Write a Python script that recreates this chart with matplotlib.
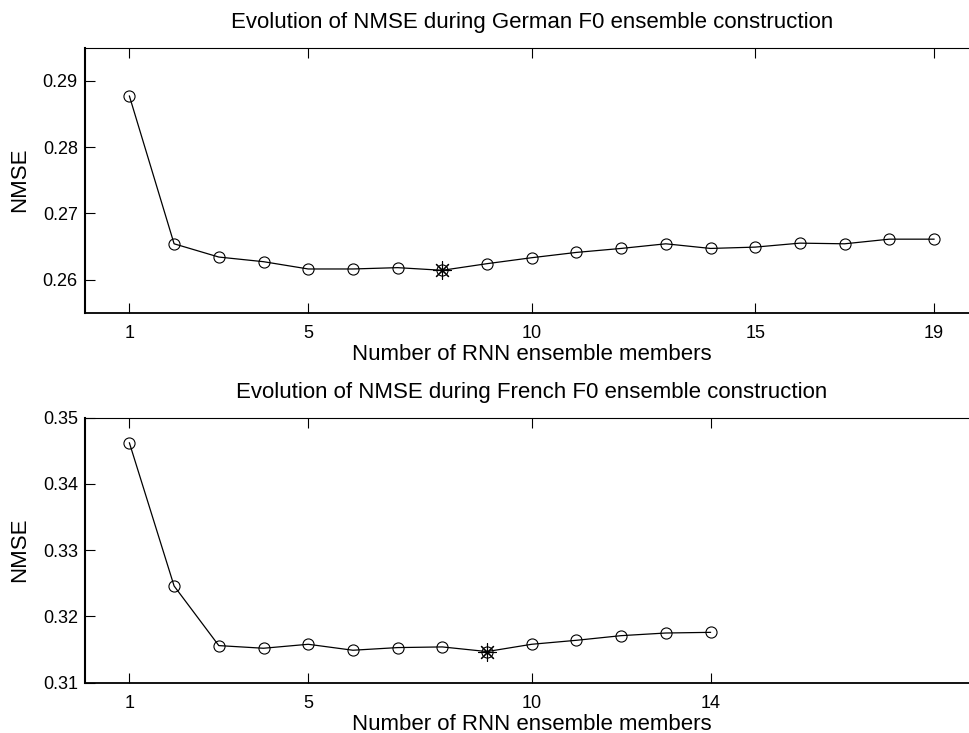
import matplotlib
matplotlib.use("Agg")
import matplotlib.pyplot as plt
import numpy as np

# NMSE after each member is added to the ensemble
german_members = list(range(1, 20))
german_nmse = [0.2877, 0.2654, 0.2634, 0.2627, 0.2616, 0.2616, 0.2618, 0.2614,
               0.2624, 0.2633, 0.2641, 0.2647, 0.2654, 0.2647, 0.2649, 0.2655,
               0.2654, 0.2661, 0.2661]
german_ticks = [1, 5, 10, 15, 19]

french_members = list(range(1, 15))
french_nmse = [0.3462, 0.3246, 0.3156, 0.3152, 0.3158, 0.3149, 0.3153, 0.3154,
               0.3147, 0.3158, 0.3164, 0.3171, 0.3175, 0.3176]
french_ticks = [1, 5, 10, 14]

plt.rcParams['font.family'] = ['Liberation Sans', 'DejaVu Sans']

fig = plt.figure(figsize=(9.69, 7.33), dpi=100)

left = 84.7 / 969
width = 894.0 / 969
panels = [
    (german_members, german_nmse, german_ticks, (0.255, 0.295),
     [0.26, 0.27, 0.28, 0.29], "Evolution of NMSE during German F0 ensemble construction",
     1 - 312.7 / 733),
    (french_members, french_nmse, french_ticks, (0.31, 0.35),
     [0.31, 0.32, 0.33, 0.34, 0.35], "Evolution of NMSE during French F0 ensemble construction",
     1 - 682.7 / 733),
]

for xs, ys, ticks, ylim, yticks, title, bottom in panels:
    ax = fig.add_axes([left, bottom, width, 265.0 / 733])
    ax.plot(xs, ys, color='black', linewidth=0.9, marker='o', markersize=8,
            markerfacecolor='none', markeredgecolor='black', markeredgewidth=0.8)
    best = int(np.argmin(ys))
    ax.plot(xs[best], ys[best], linestyle='none', marker=(8, 2, 0), markersize=13,
            color='black', markeredgewidth=0.8)
    ax.set_xlim(0, 20)
    ax.set_ylim(*ylim)
    ax.set_xticks(ticks)
    ax.set_yticks(yticks)
    ax.set_yticklabels([f"{v:g}" for v in yticks])
    ax.tick_params(direction='in', length=7, width=0.8, labelsize=13,
                   top=True, right=True)
    ax.tick_params(axis='x', pad=9)
    ax.tick_params(axis='y', pad=5)
    ax.spines['left'].set_linewidth(1.5)
    ax.spines['bottom'].set_linewidth(1.3)
    ax.spines['top'].set_linewidth(0.8)
    ax.set_title(title, fontsize=16, pad=14)
    ax.set_xlabel("Number of RNN ensemble members", fontsize=16, labelpad=1)
    ax.set_ylabel("NMSE", fontsize=16, labelpad=9)

fig.savefig("out.png", dpi=100)
